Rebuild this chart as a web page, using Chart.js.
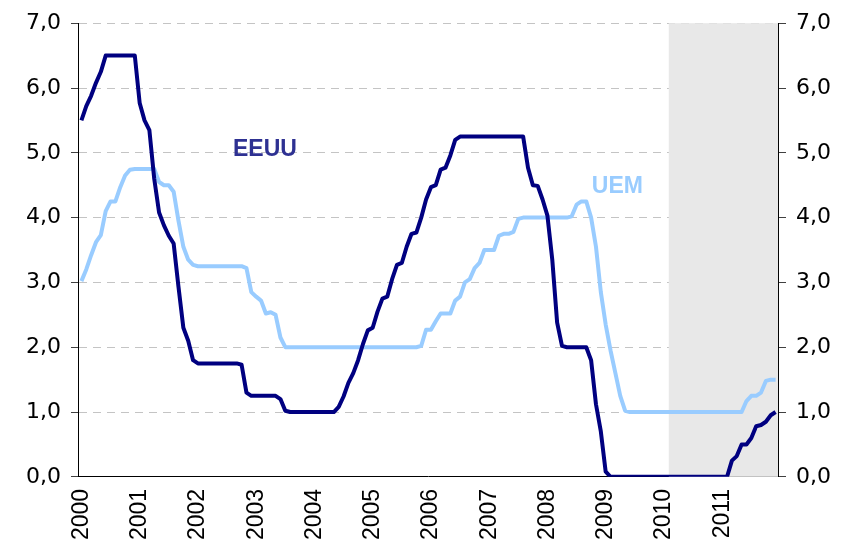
<!DOCTYPE html>
<html lang="es">
<head>
<meta charset="UTF-8">
<title>Tipos de interés oficiales: EEUU y UEM</title>
<script src="https://cdn.jsdelivr.net/npm/chart.js"></script>
<style>
    html, body { margin: 0; padding: 0; background: #fff; }
    .chart-box { width: 843px; height: 552px; }
</style>
</head>
<body>
<div class="chart-box"><canvas id="ratesChart"></canvas></div>
<script>
// one label per January, the series are monthly (Jan 2000 - Dec 2011)
const years = ['2000', '2001', '2002', '2003', '2004', '2005', '2006', '2007', '2008', '2009', '2010', '2011'];

// EEUU policy rate, % (monthly)
const eeuu = [
    5.5, 5.72, 5.88, 6.08, 6.25, 6.5, 6.5, 6.5, 6.5, 6.5, 6.5, 6.5,          // 2000
    5.77, 5.5, 5.35, 4.6, 4.08, 3.88, 3.72, 3.6, 2.93, 2.3, 2.1, 1.8,        // 2001
    1.75, 1.75, 1.75, 1.75, 1.75, 1.75, 1.75, 1.75, 1.75, 1.73, 1.3, 1.25,   // 2002
    1.25, 1.25, 1.25, 1.25, 1.25, 1.2, 1.02, 1.0, 1.0, 1.0, 1.0, 1.0,        // 2003
    1.0, 1.0, 1.0, 1.0, 1.0, 1.08, 1.24, 1.45, 1.6, 1.8, 2.05, 2.26,         // 2004
    2.3, 2.55, 2.75, 2.78, 3.05, 3.27, 3.3, 3.55, 3.75, 3.77, 4.0, 4.28,     // 2005
    4.47, 4.5, 4.74, 4.77, 4.96, 5.2, 5.25, 5.25, 5.25, 5.25, 5.25, 5.25,    // 2006
    5.25, 5.25, 5.25, 5.25, 5.25, 5.25, 5.25, 5.25, 4.77, 4.5, 4.49, 4.28,   // 2007
    4.03, 3.35, 2.38, 2.02, 2.0, 2.0, 2.0, 2.0, 2.0, 1.8, 1.12, 0.7,         // 2008
    0.08, 0, 0, 0, 0, 0, 0, 0, 0, 0, 0, 0,                                   // 2009
    0, 0, 0, 0, 0, 0, 0, 0, 0, 0, 0, 0,                                      // 2010
    0, 0, 0.25, 0.32, 0.5, 0.5, 0.6, 0.78, 0.8, 0.85, 0.95, 1.0              // 2011
];

// UEM policy rate, % (monthly)
const uem = [
    3.02, 3.2, 3.42, 3.62, 3.73, 4.1, 4.25, 4.25, 4.47, 4.65, 4.74, 4.75,    // 2000
    4.75, 4.75, 4.75, 4.75, 4.55, 4.5, 4.5, 4.4, 3.95, 3.55, 3.35, 3.27,     // 2001
    3.25, 3.25, 3.25, 3.25, 3.25, 3.25, 3.25, 3.25, 3.25, 3.25, 3.22, 2.85,  // 2002
    2.78, 2.72, 2.52, 2.54, 2.5, 2.15, 2.0, 2.0, 2.0, 2.0, 2.0, 2.0,         // 2003
    2.0, 2.0, 2.0, 2.0, 2.0, 2.0, 2.0, 2.0, 2.0, 2.0, 2.0, 2.0,              // 2004
    2.0, 2.0, 2.0, 2.0, 2.0, 2.0, 2.0, 2.0, 2.0, 2.0, 2.02, 2.27,            // 2005
    2.27, 2.4, 2.52, 2.52, 2.52, 2.72, 2.78, 3.0, 3.05, 3.22, 3.3, 3.5,      // 2006
    3.5, 3.5, 3.72, 3.75, 3.75, 3.78, 3.98, 4.0, 4.0, 4.0, 4.0, 4.0,         // 2007
    4.0, 4.0, 4.0, 4.0, 4.0, 4.02, 4.2, 4.25, 4.25, 4.0, 3.55, 2.85,         // 2008
    2.35, 1.95, 1.6, 1.25, 1.02, 1.0, 1.0, 1.0, 1.0, 1.0, 1.0, 1.0,          // 2009
    1.0, 1.0, 1.0, 1.0, 1.0, 1.0, 1.0, 1.0, 1.0, 1.0, 1.0, 1.0,              // 2010
    1.0, 1.0, 1.0, 1.0, 1.0, 1.17, 1.25, 1.25, 1.3, 1.48, 1.5, 1.5           // 2011
];

const forecastFrom = 121;   // month index where the grey (forecast) band starts
const seriesLabels = [
    { text: 'EEUU', month: 37.8, value: 5.05, color: '#2e3192' },
    { text: 'UEM', month: 110.4, value: 4.48, color: '#99ccff' }
];

const toPoints = arr => arr.map((v, i) => ({ x: i, y: v }));
const fmt = v => v.toFixed(1).replace('.', ',');

// grey band behind the lines, over the grid
const shadePlugin = {
    id: 'shade',
    beforeDatasetsDraw(chart) {
        const { ctx, chartArea, scales } = chart;
        const left = scales.x.getPixelForValue(forecastFrom);
        ctx.save();
        ctx.fillStyle = '#e8e8e8';
        ctx.fillRect(left, chartArea.top, chartArea.right - left, chartArea.bottom - chartArea.top);
        ctx.restore();
    }
};

// series names written inside the plot
const namePlugin = {
    id: 'names',
    afterDatasetsDraw(chart) {
        const { ctx, scales } = chart;
        ctx.save();
        ctx.font = 'bold 23px "Liberation Sans", Arial, sans-serif';
        ctx.textAlign = 'center';
        ctx.textBaseline = 'middle';
        seriesLabels.forEach(l => {
            ctx.fillStyle = l.color;
            ctx.fillText(l.text, scales.x.getPixelForValue(l.month), scales.y.getPixelForValue(l.value));
        });
        ctx.restore();
    }
};

const yTicks = {
    stepSize: 1,
    color: '#000',
    padding: 10,
    font: { family: '"DejaVu Sans", sans-serif', size: 22 },
    callback: v => fmt(v)
};

new Chart(document.getElementById('ratesChart'), {
    type: 'line',
    data: {
        datasets: [
            {
                label: 'EEUU',
                data: toPoints(eeuu),
                borderColor: '#000080',
                borderWidth: 4,
                pointRadius: 0,
                tension: 0,
                borderJoinStyle: 'round',
                fill: false
            },
            {
                label: 'UEM',
                data: toPoints(uem),
                borderColor: '#99ccff',
                borderWidth: 4,
                pointRadius: 0,
                tension: 0,
                borderJoinStyle: 'round',
                fill: false
            }
        ]
    },
    options: {
        responsive: true,
        maintainAspectRatio: false,
        animation: false,
        layout: { padding: { left: 16, right: 2, top: 0, bottom: 0 } },
        plugins: {
            legend: { display: false },
            tooltip: { enabled: false }
        },
        scales: {
            x: {
                type: 'linear',
                min: -0.5,
                max: 143.5,
                afterBuildTicks: scale => {
                    scale.ticks = years.map((_, k) => ({ value: k * 12 }));
                },
                ticks: {
                    minRotation: 90,
                    maxRotation: 90,
                    autoSkip: false,
                    color: '#000',
                    padding: 12,
                    font: { family: '"Liberation Sans", Arial, sans-serif', size: 23 },
                    callback: v => years[Math.round(v / 12)]
                },
                grid: { display: false, drawTicks: false },
                border: { display: true, color: '#000', width: 1 }
            },
            y: {
                position: 'left',
                min: 0,
                max: 7,
                ticks: yTicks,
                grid: {
                    color: c => (c.tick && c.tick.value === 0 ? 'rgba(0,0,0,0)' : '#c4c4c4'),
                    lineWidth: 1,
                    tickLength: 8,
                    tickColor: '#404040',
                    tickBorderDash: []
                },
                border: { display: true, color: '#000', width: 1, dash: [8, 6] }
            },
            y2: {
                position: 'right',
                min: 0,
                max: 7,
                ticks: yTicks,
                grid: {
                    drawOnChartArea: false,
                    tickLength: 8,
                    tickColor: '#404040',
                    tickBorderDash: []
                },
                border: { display: true, color: '#000', width: 1 }
            }
        }
    },
    plugins: [shadePlugin, namePlugin]
});
</script>
</body>
</html>
